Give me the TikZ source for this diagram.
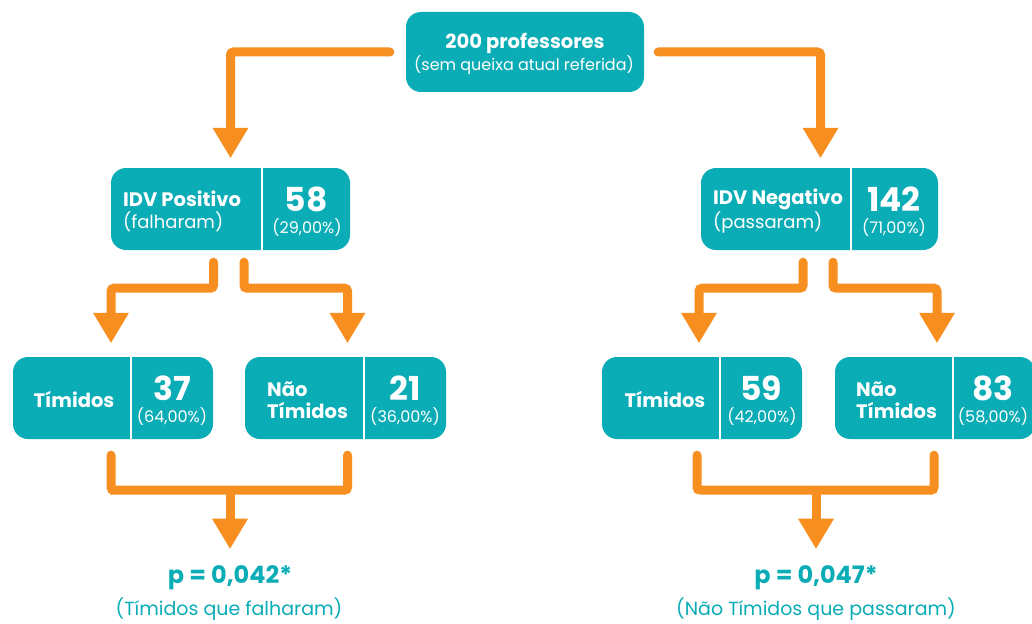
\documentclass[tikz,border=0pt]{standalone}
\usepackage{fontspec}
\setmainfont{Poppins}
\usetikzlibrary{arrows.meta,positioning}
\definecolor{boxteal}{RGB}{10,172,181}
\definecolor{arrorange}{RGB}{247,142,32}

\begin{document}
\begin{tikzpicture}[x=1pt,y=-1pt,
    box/.style={fill=boxteal,rounded corners=15pt,inner sep=0pt},
    wt/.style={text=white,inner sep=0pt},
    head/.style={wt,font=\bfseries\fontsize{19.5}{19.5}\selectfont},
    sub/.style={wt,font=\fontsize{18}{18}\selectfont},
    big/.style={wt,font=\bfseries\fontsize{33}{33}\selectfont},
    pct/.style={wt,font=\fontsize{16}{16}\selectfont},
    res/.style={text=boxteal,inner sep=0pt},
    link/.style={draw=arrorange,line width=9pt,line cap=round,rounded corners=3pt},
    flow/.style={link,-{Triangle[width=36pt,length=30pt,line width=0pt]}},
    divider/.style={draw=white,line width=1.5pt}]
    \useasboundingbox (0,0) rectangle (1032,623);
    % top box
    \node[box,minimum width=238pt,minimum height=80pt] (top) at (525,52) {};
    \node[wt,font=\bfseries\fontsize{19.5}{19.5}\selectfont] (top-a) at (525,43) {200 professores};
    \node[wt,font=\fontsize{16}{16}\selectfont] (top-b) at (524,65) {(sem queixa atual referida)};
    % IDV boxes
    \node[box,minimum width=239pt,minimum height=82pt] (pos) at (230.5,209) {};
    \draw[divider] (pos.north -| 262,0) -- (pos.south -| 262,0);
    \node[head,anchor=west] (pos-a) at (123,199) {IDV Positivo};
    \node[sub,anchor=west] (pos-b) at (123,222) {(falharam)};
    \node[big] (pos-n) at (306,199) {58};
    \node[pct] (pos-p) at (307,228) {(29,00\%)};
    \node[box,minimum width=237pt,minimum height=82pt] (neg) at (819.5,209) {};
    \draw[divider] (neg.north -| 851,0) -- (neg.south -| 851,0);
    \node[head,anchor=west] (neg-a) at (713,199) {IDV Negativo};
    \node[sub,anchor=west] (neg-b) at (713,222) {(passaram)};
    \node[big] (neg-n) at (894,199) {142};
    \node[pct] (neg-p) at (894,228) {(71,00\%)};
    % second row
    \node[box,minimum width=200pt,minimum height=82pt] (tim1) at (113,398) {};
    \draw[divider] (tim1.north -| 131,0) -- (tim1.south -| 131,0);
    \node[head] (tim1-a) at (74,399) {Tímidos};
    \node[big] (tim1-n) at (172,388) {37};
    \node[pct] (tim1-p) at (172,417) {(64,00\%)};
    \node[box,minimum width=201pt,minimum height=82pt] (ntim1) at (345.5,398) {};
    \draw[divider] (ntim1.north -| 364,0) -- (ntim1.south -| 364,0);
    \node[head,anchor=west] (ntim1-a) at (267,389) {Não};
    \node[head,anchor=west] (ntim1-b) at (267,410) {Tímidos};
    \node[big] (ntim1-n) at (405,388) {21};
    \node[pct] (ntim1-p) at (405,417) {(36,00\%)};
    \node[box,minimum width=200pt,minimum height=82pt] (tim2) at (702,398) {};
    \draw[divider] (tim2.north -| 720,0) -- (tim2.south -| 720,0);
    \node[head] (tim2-a) at (665,399) {Tímidos};
    \node[big] (tim2-n) at (761,388) {59};
    \node[pct] (tim2-p) at (762,417) {(42,00\%)};
    \node[box,minimum width=200pt,minimum height=82pt] (ntim2) at (935,398) {};
    \draw[divider] (ntim2.north -| 953,0) -- (ntim2.south -| 953,0);
    \node[head,anchor=west] (ntim2-a) at (856,389) {Não};
    \node[head,anchor=west] (ntim2-b) at (856,410) {Tímidos};
    \node[big] (ntim2-n) at (993,388) {83};
    \node[pct] (ntim2-p) at (993,417) {(58,00\%)};
    % results
    \node[res,font=\bfseries\fontsize{24}{24}\selectfont] (p1) at (230,578) {p = 0,042*};
    \node[res,font=\fontsize{19}{19}\selectfont] (p1-b) at (229,609) {(Tímidos que falharam)};
    \node[res,font=\bfseries\fontsize{24}{24}\selectfont] (p2) at (816,578) {p = 0,047*};
    \node[res,font=\fontsize{19}{19}\selectfont] (p2-b) at (816,609) {(Não Tímidos que passaram)};
    % arrows
    \draw[flow] ([xshift=-16pt]top.west) -| ([yshift=10pt]pos.north);
    \draw[flow] ([xshift=14pt]top.east) -| ([xshift=1pt,yshift=10pt]neg.north);
    \coordinate (pos-l) at ([xshift=-17pt,yshift=-12pt]pos.south);
    \coordinate (pos-r) at ([xshift=13.5pt,yshift=-12pt]pos.south);
    \draw[flow] (pos-l) -- ++(0,26) -| ([xshift=-2pt,yshift=14pt]tim1.north);
    \draw[flow] (pos-r) -- ++(0,26) -| ([xshift=2pt,yshift=14pt]ntim1.north);
    \coordinate (neg-l) at ([xshift=-16.5pt,yshift=-12pt]neg.south);
    \coordinate (neg-r) at ([xshift=13.5pt,yshift=-12pt]neg.south);
    \draw[flow] (neg-l) -- ++(0,26) -| ([xshift=-3pt,yshift=14pt]tim2.north);
    \draw[flow] (neg-r) -- ++(0,26) -| ([xshift=2pt,yshift=14pt]ntim2.north);
    \coordinate (bar1) at ([yshift=-51pt]tim1.south);
    \coordinate (bar2) at ([yshift=-51pt]tim2.south);
    \draw[link] ([xshift=-2pt,yshift=-16pt]tim1.south) |- (bar1) -| ([xshift=2pt,yshift=-16pt]ntim1.south);
    \draw[link] ([xshift=-5pt,yshift=-16pt]tim2.south) |- (bar2) -| ([xshift=-1pt,yshift=-16pt]ntim2.south);
    \draw[flow] (p1.north |- bar1) -- ([yshift=17pt]p1.north);
    \draw[flow] (p2.north |- bar2) -- ([yshift=17pt]p2.north);
\end{tikzpicture}
\end{document}
